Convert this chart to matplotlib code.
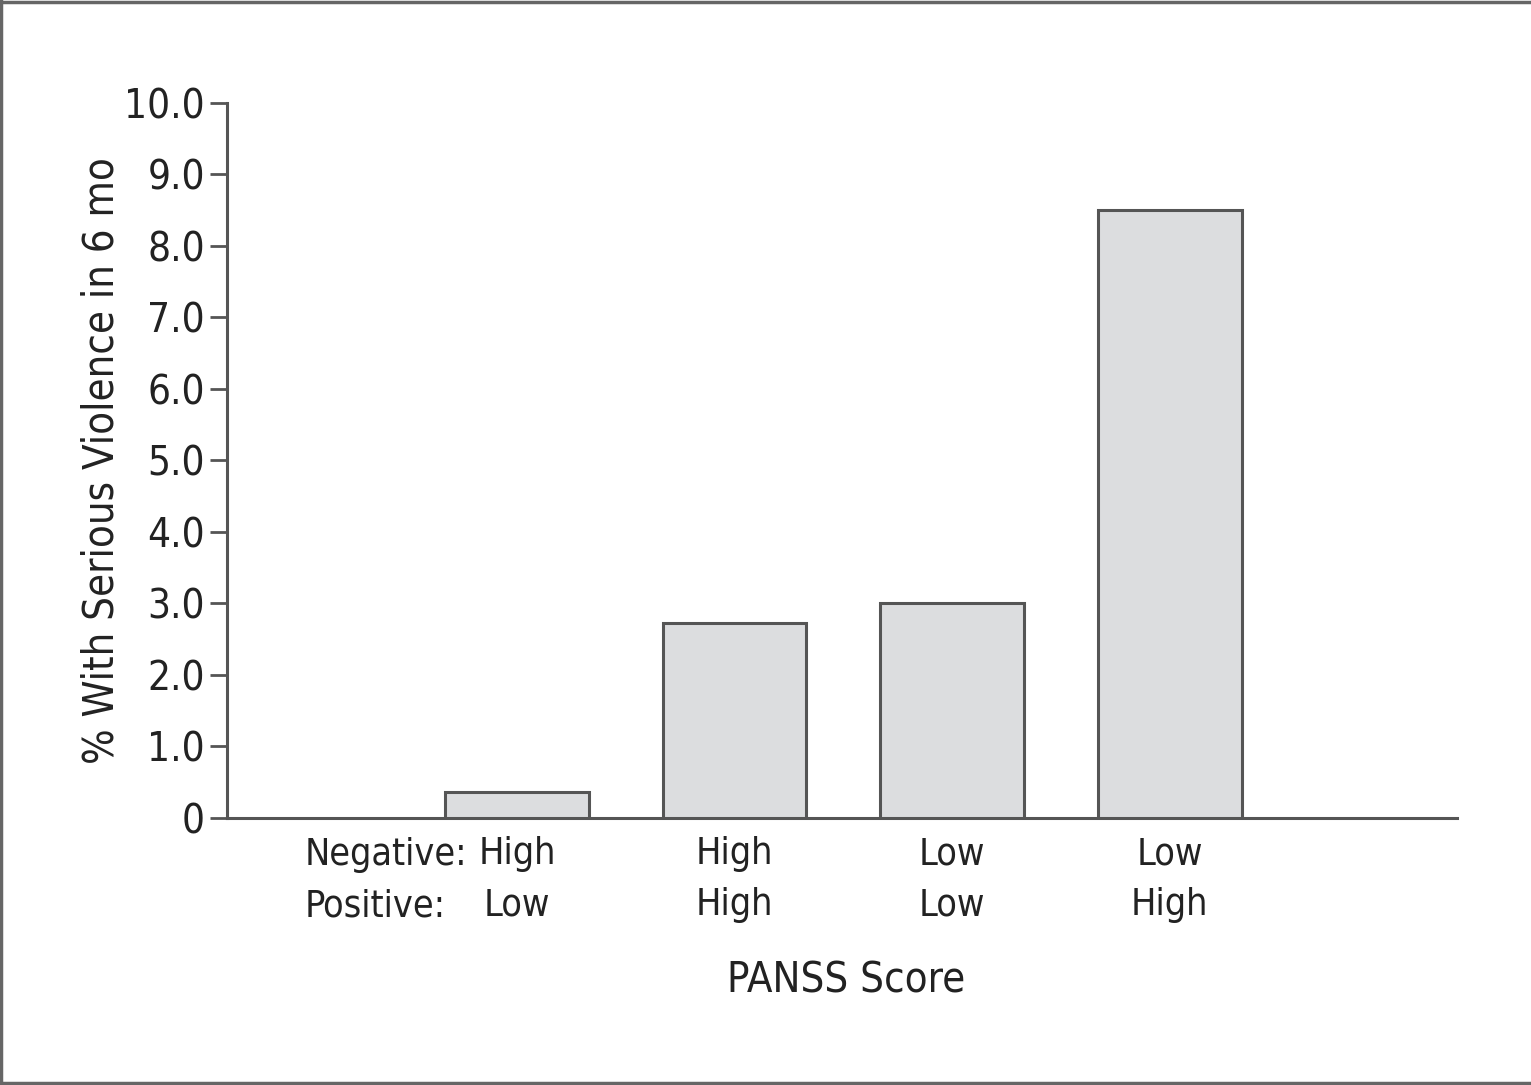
import matplotlib.pyplot as plt
from matplotlib.lines import Line2D
from matplotlib.transforms import blended_transform_factory

# datos
negativo = ['High', 'High', 'Low', 'Low']
positivo = ['Low', 'High', 'Low', 'High']
violencia = [0.37, 2.72, 3.0, 8.5]
yticks = [0, 1, 2, 3, 4, 5, 6, 7, 8, 9, 10]
ytick_labels = ['0', '1.0', '2.0', '3.0', '4.0', '5.0', '6.0', '7.0', '8.0', '9.0', '10.0']

plt.rcParams['font.family'] = ['DejaVu Sans']
plt.rcParams['font.stretch'] = 'condensed'
texto = '#222222'
gris = '#555555'
fs = 30
fs_cat = 27

fig = plt.figure(figsize=(15.31, 10.85), dpi=100)
ax = fig.add_axes([0.1483, 0.2461, 0.8034, 0.659])

x = list(range(len(violencia)))
ax.bar(x, violencia, width=0.66, color='#dcdddf', edgecolor=gris, linewidth=2.2, zorder=3)

ax.set_xlim(-1.333, 4.32)
ax.set_ylim(0, 10)
ax.set_yticks(yticks)
ax.set_yticklabels(ytick_labels, fontsize=29, color=texto, stretch='condensed')
ax.set_xticks(x)
ax.set_xticklabels([f'{n}\n{p}' for n, p in zip(negativo, positivo)],
                   fontsize=fs_cat, color=texto, linespacing=1.55, stretch='condensed')
ax.tick_params(axis='x', length=0, pad=13)
ax.tick_params(axis='y', length=12, width=2, color=gris, pad=4)

for lado in ['top', 'right']:
    ax.spines[lado].set_visible(False)
for lado in ['left', 'bottom']:
    ax.spines[lado].set_color(gris)
    ax.spines[lado].set_linewidth(2.2)

# etiquetas de fila a la izquierda
trans = blended_transform_factory(ax.transData, ax.transAxes)
ax.text(-0.975, -0.026, 'Negative:', transform=trans, fontsize=fs_cat, color=texto,
        ha='left', va='top', stretch='condensed')
ax.text(-0.975, -0.098, 'Positive:', transform=trans, fontsize=fs_cat, color=texto,
        ha='left', va='top', stretch='condensed')

ax.set_xlabel('PANSS Score', fontsize=fs, color=texto, stretch='condensed')
ax.xaxis.set_label_coords(0.503, -0.198)
ax.set_ylabel('% With Serious Violence in 6 mo', fontsize=fs, color=texto, stretch='condensed')
ax.yaxis.set_label_coords(-0.0854, 0.5)

# marco de la figura
for xs, ys in [([0, 1], [0.9985, 0.9985]), ([0.0005, 0.0005], [0, 1]), ([0, 1], [0.0015, 0.0015])]:
    fig.add_artist(Line2D(xs, ys, color='#666666', linewidth=2.5, transform=fig.transFigure))

fig.savefig('out.png', dpi=100)
plt.close()
